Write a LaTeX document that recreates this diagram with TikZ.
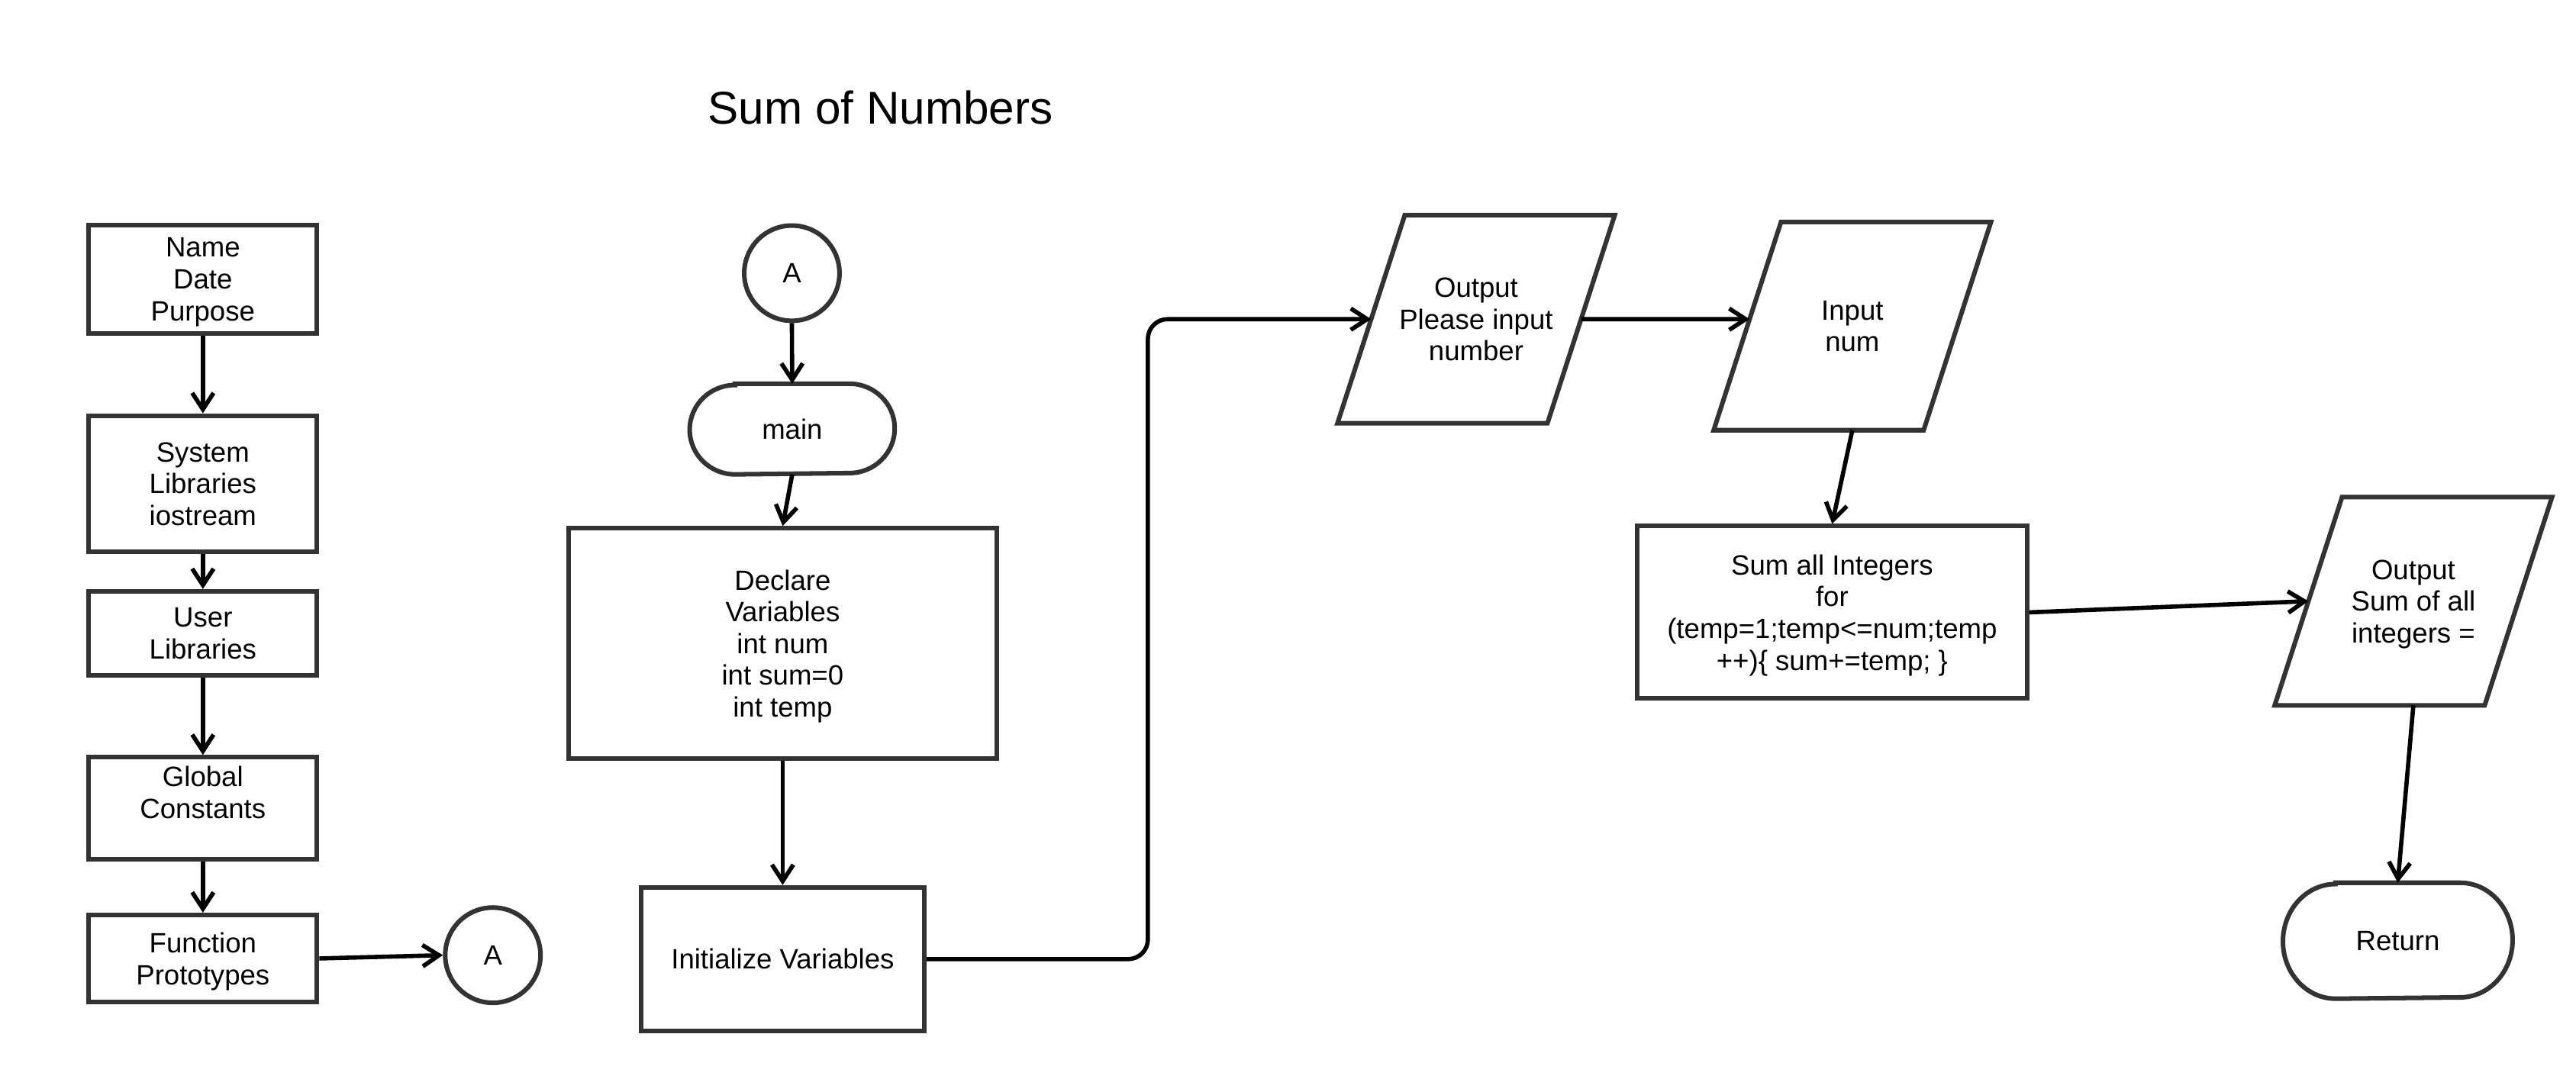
\documentclass[tikz,border=0pt]{standalone}
\usepackage{fontspec}
\setmainfont{Liberation Sans}
\usetikzlibrary{arrows.meta,calc}
\definecolor{boxgray}{HTML}{333333}
\newcommand\iooutline[1]{\draw[termline] ([xshift=20.5pt]#1.north west) -- (#1.north east) -- ([xshift=-20.5pt]#1.south east) -- (#1.south west) -- cycle;}
\begin{document}
\begin{tikzpicture}[x=0.5pt,y=-0.5pt,
  every node/.style={font=\fontsize{8.5pt}{9.65pt}\selectfont, align=center, inner sep=0pt, text=black},
  low/.style={text depth=-1.5pt},
  box/.style={rectangle, draw=boxgray, line width=1.4pt},
  conn/.style={circle, draw=boxgray, line width=1.4pt, minimum size=29pt},
  io/.style={low, rectangle, draw=none, minimum width=84pt, minimum height=63pt},
  term/.style={rectangle, draw=none},
  termline/.style={draw=boxgray, line width=1.4pt},
  arr/.style={draw=black, line width=1.3pt, -{Straight Barb[length=5pt,width=6.5pt]}},
]
\useasboundingbox (0,0) rectangle (1568,655);

% left column
\node[box, low, minimum width=69.5pt, minimum height=33pt] (n1) at (123.5,170) {Name\\Date\\Purpose};
\node[box, low, minimum width=69.5pt, minimum height=41.5pt] (n2) at (123.5,294.5) {System\\Libraries\\iostream};
\node[box, low, minimum width=69.5pt, minimum height=25.5pt] (n3) at (123.5,385.5) {User\\Libraries};
\node[box, low, minimum width=69.5pt, minimum height=31pt] (n4) at (123.5,492) {Global\\Constants\\\mbox{}};
\node[box, low, minimum width=69.5pt, minimum height=26.5pt] (n5) at (123.5,583.5) {Function\\Prototypes};
\node[conn] (a1) at (300,581.5) {A};

% title
\node[font=\fontsize{14pt}{16pt}\selectfont, anchor=base] (title) at (536,75.7) {Sum of Numbers};

% middle column
\node[conn] (a2) at (482,166.3) {A};
\node[term, minimum width=62pt, minimum height=27.2pt] (main) at (482.2,261.2) {main};
\draw[termline] ([xshift=13.8pt]main.north west) -- ([xshift=-13.8pt]main.north east)
  arc[start angle=90, end angle=-90, x radius=13.8pt, y radius=13.6pt]
  -- ([xshift=13.8pt]main.south west)
  arc[start angle=270, end angle=90, x radius=13.8pt, y radius=13.6pt] -- cycle;
\node[box, low, minimum width=130.3pt, minimum height=70pt] (decl) at (476.4,391.6) {Declare\\Variables\\int num\\int sum=0\\int temp};
\node[box, minimum width=86.3pt, minimum height=43.7pt] (init) at (476.4,583.9) {Initialize Variables};

% right part
\node[io] (o1) at (898.5,194.3) {Output\\Please input\\number};
\iooutline{o1}
\node[io] (in) at (1127.5,198.5) {Input\\num};
\iooutline{in}
\node[box, low, minimum width=118.6pt, minimum height=52.5pt] (sum) at (1115.2,372.8) {Sum all Integers\\for\\(temp=1;temp<=num;temp\\++)\{ sum+=temp; \}};
\node[io] (o2) at (1469,366) {Output\\Sum of all\\integers =};
\iooutline{o2}
\node[term, minimum width=69.5pt, minimum height=34.9pt] (ret) at (1459.5,572.7) {Return};
\draw[termline] ([xshift=16pt]ret.north west) -- ([xshift=-16pt]ret.north east)
  arc[start angle=90, end angle=-90, x radius=16pt, y radius=17.45pt]
  -- ([xshift=16pt]ret.south west)
  arc[start angle=270, end angle=90, x radius=16pt, y radius=17.45pt] -- cycle;

% border points of the parallelograms
\coordinate (o1w) at ([xshift=10.25pt]o1.west);
\coordinate (o1e) at ([xshift=-10.25pt]o1.east);
\coordinate (inw) at ($(in.south west)!0.533!([xshift=20.5pt]in.north west)$);
\coordinate (o2w) at ([xshift=10.25pt]o2.west);

% connectors
\draw[arr] (n1.south) -- (n2.north);
\draw[arr] (n2.south) -- (n3.north);
\draw[arr] (n3.south) -- (n4.north);
\draw[arr] (n4.south) -- (n5.north);
\draw[arr] (n5.east) -- (a1.west);
\draw[arr] (a2.south) -- (main.north);
\draw[arr] (main.south) -- (decl.north);
\draw[arr] (decl.south) -- (init.north);
\coordinate (bend) at (698.7,0);
\draw[arr, rounded corners=6pt] (init.east) -- (init.east -| bend) -- (bend |- o1w) -- (o1w);
\draw[arr] (o1e) -- (inw);
\draw[arr] (in.south) -- (sum.north);
\draw[arr] (sum.east) -- (o2w);
\draw[arr] (o2.south) -- (ret.north);
\end{tikzpicture}
\end{document}
